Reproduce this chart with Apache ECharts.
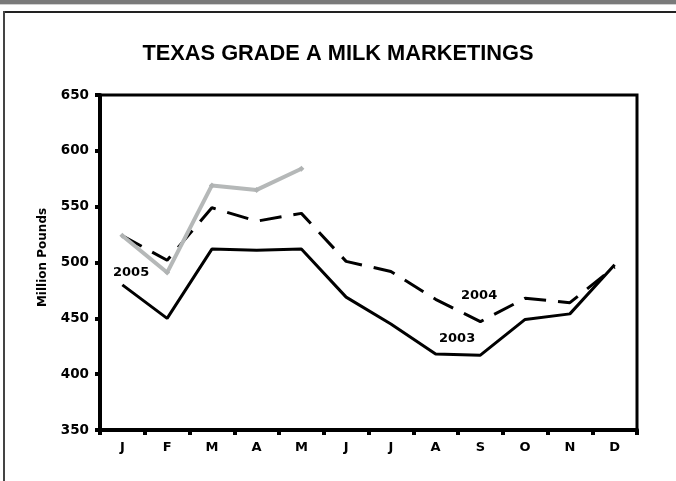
<!DOCTYPE html>
<html>
<head>
<meta charset="utf-8">
<script src="https://cdn.jsdelivr.net/npm/echarts@6/dist/echarts.min.js"></script>
<style>
html,body{margin:0;padding:0;background:#fff;}
#chart{width:676px;height:481px;}
</style>
</head>
<body>
<div id="chart"></div>
<script>
var months = ['J','F','M','A','M','J','J','A','S','O','N','D'];
var yTicks = {min: 350, max: 650, interval: 50};
var s2003 = [480, 450, 512, 511, 512, 469, 445, 418, 417, 449, 454, 498];
var s2004 = [524, 502, 549, 537, 544, 501, 492, 467, 447, 468, 464, 496];
var s2005 = [524, 491, 569, 565, 584];
var seriesNames = ['2003', '2004', '2005'];

var FONT = 'DejaVu Sans';
var chart = echarts.init(document.getElementById('chart'), null, {renderer: 'canvas'});
chart.setOption({
  animation: false,
  backgroundColor: '#fff',
  title: {
    text: 'TEXAS GRADE A MILK MARKETINGS',
    left: 333, top: 38, textAlign: 'center',
    textStyle: {fontFamily: 'Liberation Sans', fontWeight: 'bold', fontSize: 21.8, color: '#000'}
  },
  grid: {left: 100, right: 39, top: 95, bottom: 51, show: true, borderColor: '#000', borderWidth: 3, backgroundColor: 'transparent'},
  xAxis: {
    type: 'category', data: months, boundaryGap: true,
    axisLine: {lineStyle: {color: '#000', width: 4}},
    axisTick: {show: true, length: 5, lineStyle: {color: '#000', width: 4}},
    axisLabel: {fontFamily: FONT, fontWeight: 'bold', fontSize: 13, color: '#000', margin: 11},
    splitLine: {show: false}
  },
  yAxis: {
    type: 'value', min: yTicks.min, max: yTicks.max, interval: yTicks.interval,
    name: 'Million Pounds', nameLocation: 'middle', nameGap: 51, nameRotate: 90,
    nameTextStyle: {fontFamily: FONT, fontWeight: 'bold', fontSize: 12, color: '#000', padding: [0, 0, 0, 10]},
    axisLine: {show: true, lineStyle: {color: '#000', width: 4}},
    axisTick: {show: true, length: 5, lineStyle: {color: '#000', width: 4}},
    axisLabel: {fontFamily: FONT, fontWeight: 'bold', fontSize: 13.5, color: '#000', margin: 11},
    splitLine: {show: false}
  },
  series: [
    {name: seriesNames[0], type: 'line', data: s2003, symbol: 'none',
     lineStyle: {color: '#000', width: 3}, z: 3},
    {name: seriesNames[1], type: 'line', data: s2004, symbol: 'none',
     lineStyle: {color: '#000', width: 3, type: [22, 12]}, z: 3},
    {name: seriesNames[2], type: 'line', data: s2005, symbol: 'diamond', symbolSize: 6,
     itemStyle: {color: '#b0b3b3'},
     lineStyle: {color: '#b5b8b8', width: 4}, z: 4}
  ],
  graphic: [
    {type: 'rect', shape: {x: 0, y: 0, width: 676, height: 4}, style: {fill: '#7a7a7a'}, silent: true},
    {type: 'rect', shape: {x: 0, y: 4, width: 676, height: 1}, style: {fill: '#d0d0d0'}, silent: true},
    {type: 'rect', shape: {x: 3, y: 11, width: 673, height: 2}, style: {fill: '#222'}, silent: true},
    {type: 'rect', shape: {x: 3, y: 11, width: 2, height: 470}, style: {fill: '#444'}, silent: true},
    {type: 'text', left: 113, top: 266, style: {text: seriesNames[2], font: 'bold 13px "DejaVu Sans"', fill: '#000'}},
    {type: 'text', left: 461, top: 289, style: {text: seriesNames[1], font: 'bold 13px "DejaVu Sans"', fill: '#000'}},
    {type: 'text', left: 439, top: 332, style: {text: seriesNames[0], font: 'bold 13px "DejaVu Sans"', fill: '#000'}}
  ]
});
</script>
</body>
</html>
